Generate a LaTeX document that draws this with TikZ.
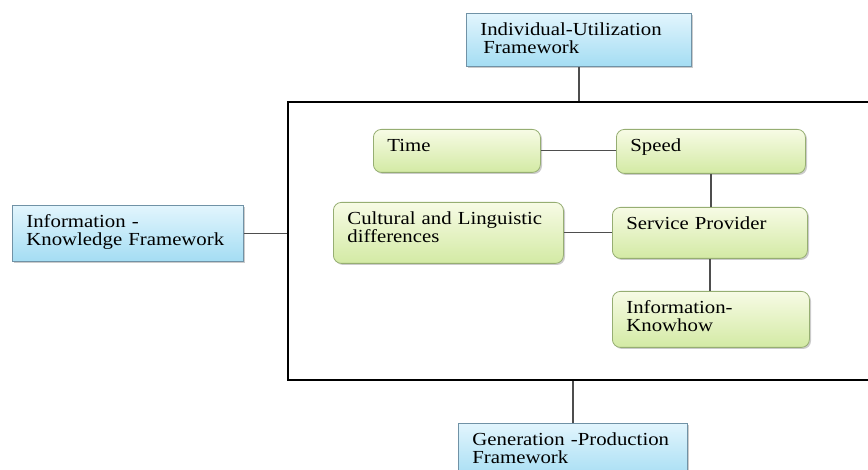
\documentclass[tikz,border=0pt]{standalone}
\usepackage{fontspec}
\setmainfont{Liberation Serif}[FakeStretch=1.13]
\usepackage{tikz}
\usetikzlibrary{shadows}

\definecolor{bluetop}{RGB}{226,245,253}
\definecolor{bluebot}{RGB}{164,221,243}
\definecolor{blueline}{RGB}{112,146,166}
\definecolor{greentop}{RGB}{247,251,229}
\definecolor{greenbot}{RGB}{211,234,164}
\definecolor{greenline}{RGB}{150,174,114}
\definecolor{linkgray}{RGB}{78,78,78}

\begin{document}
\begin{tikzpicture}[
  x=0.5pt, y=-0.5pt,
  every node/.style={
    anchor=north west,
    align=left,
    inner xsep=7pt,
    inner ysep=5pt,
    text height=6pt,
    font=\fontsize{9.2}{9}\selectfont
  },
  framebox/.style={
    draw=blueline,
    top color=bluetop,
    bottom color=bluebot,
    drop shadow={shadow xshift=0.8pt, shadow yshift=-0.8pt, fill=black!45, opacity=0.45}
  },
  itembox/.style={
    draw=greenline,
    rounded corners=4pt,
    top color=greentop,
    bottom color=greenbot,
    drop shadow={shadow xshift=0.8pt, shadow yshift=-0.8pt, fill=black!45, opacity=0.45}
  },
  link/.style={draw=linkgray, line width=0.6pt}
]
  \clip (0,0) rectangle (868,470);

  % outer frame
  \node[draw, line width=1pt, inner sep=0pt, text height=0pt,
        minimum width=291.5pt, minimum height=139pt] (frame) at (287,101) {};

  % frameworks
  \node[framebox, text width=98.5pt, text depth=10.5pt] (iuf) at (466,13)
    {Individual-Utilization\\\hspace*{1.5pt}Framework};
  \node[framebox, text width=101.5pt, text depth=12pt] (ikf) at (12,205)
    {Information -\\Knowledge Framework};
  \node[framebox, text width=100.5pt, text depth=12pt] (gpf) at (458,423)
    {Generation -Production\\Framework};

  % factors
  \node[itembox, text width=69.5pt, text depth=5.5pt] (time) at (373,129) {Time};
  \node[itembox, text width=80.5pt, text depth=6pt] (speed) at (616,129) {Speed};
  \node[itembox, text width=101pt, text depth=14.5pt] (cult) at (333,202)
    {Cultural and Linguistic\\differences};
  \node[itembox, text width=83.5pt, text depth=9.5pt] (serv) at (612,207) {Service Provider};
  \node[itembox, text width=84.5pt, text depth=12pt] (know) at (612,291)
    {Information-\\Knowhow};

  \draw[link] (iuf.south) -- (iuf.south |- frame.north);
  \draw[link] (ikf.east) -- (ikf.east -| frame.west);
  \draw[link] (gpf.north) -- (gpf.north |- frame.south);
  \draw[link] (time.east) -- (speed.west |- time.east);
  \draw[link] (speed.south) -- (speed.south |- serv.north);
  \draw[link] (cult.east) -- (serv.west |- cult.east);
  \draw[link] (serv.south) -- (serv.south |- know.north);
\end{tikzpicture}
\end{document}
